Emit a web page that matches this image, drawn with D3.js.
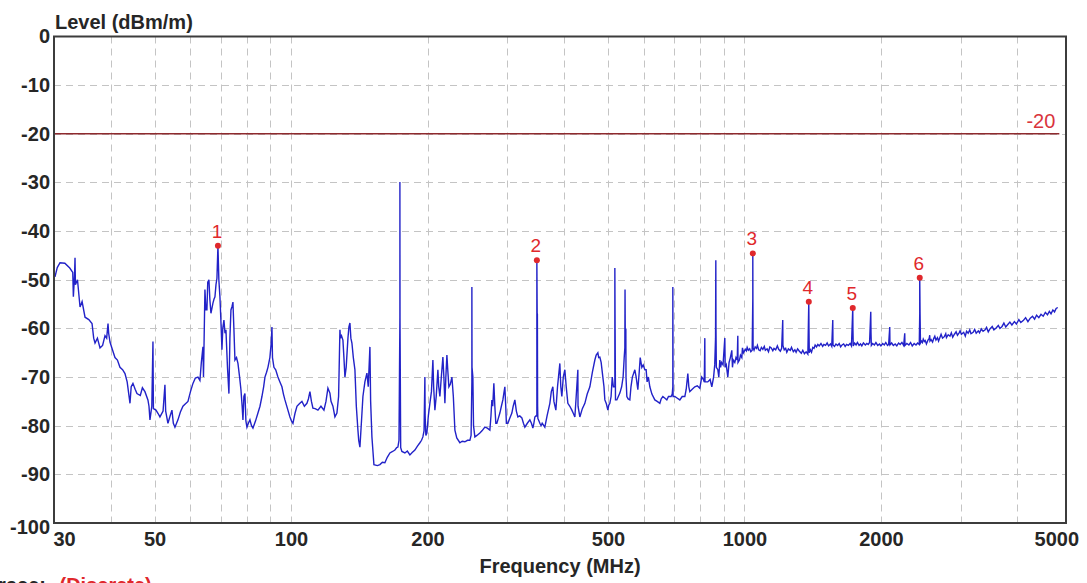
<!DOCTYPE html>
<html>
<head>
<meta charset="utf-8">
<script src="https://cdn.jsdelivr.net/npm/d3@7/dist/d3.min.js"></script>
<style>
  html, body { margin: 0; padding: 0; background: #fff; overflow: hidden; }
  svg { display: block; font-family: "Liberation Sans", Arial, sans-serif; }
</style>
</head>
<body>
<svg id="chart" width="1087" height="583"></svg>
<script>
// Measured field strength trace, [frequency MHz, level dBm/m]
const band30to100 = [
  [30.15,-49.4],[30.5,-47.5],[30.93,-46.5],[31.7,-46.6],[32.5,-47.6],[33.0,-48.5],[33.1,-53.5],[33.3,-49],
  [33.38,-45.5],[33.45,-51],[33.8,-50],[34.24,-55.6],[34.6,-54.5],[35.12,-57.7],[35.8,-58.2],[36.39,-59],
  [36.7,-62],[36.95,-63],[37.4,-62],[37.9,-64],[38.4,-63.5],[38.87,-61.5],[39.2,-62],[39.47,-59],[39.6,-61],
  [39.87,-62.8],[40.4,-64.5],[40.89,-66],[41.4,-66.5],[41.94,-68],[42.5,-68.5],[43.02,-69.3],[43.5,-71],
  [44.13,-75.4],[44.4,-72],[44.8,-71.3],[45.3,-72.5],[45.72,-73.4],[46.5,-73.8],[47.0,-72.2],[47.61,-73],
  [48.34,-74.7],[48.6,-76],[48.84,-78.8],[49.3,-76],[49.59,-62.7],[49.7,-76.5],[50.35,-76.8],[50.9,-77.5],
  [51.38,-78.2],[52.2,-77],[52.7,-71.6],[52.9,-77],[53.51,-79.5],[54.1,-78],[54.61,-76.8],[55.0,-79.5],
  [55.45,-80.3],[55.9,-79.5],[56.3,-78.8],[57.0,-77.2],[57.75,-76],[58.5,-75.5],[59.24,-75],[60.0,-73],
  [60.76,-71.3],[61.5,-70.2],[62.32,-70],[62.95,-70.7],[63.4,-67],[63.92,-63.8],[64.1,-70],[64.57,-52],
  [64.9,-56.2],[65.23,-56.2],[65.5,-50.5],[65.9,-50],[66.2,-54],[66.57,-56.9],[67.25,-54.8],[67.6,-54],
  [67.94,-53.5],[68.3,-51],[68.63,-49.7],[68.98,-43],[69.3,-50],[69.68,-53.5],[70.0,-58],[70.4,-64.4],
  [70.7,-60],[71.11,-58.3],[71.5,-61],[71.84,-60.3],[72.4,-68],[72.94,-73.4],[73.3,-62],[73.69,-56.2],
  [74.1,-55.5],[74.44,-54.6],[74.8,-60],[75.2,-66.5],[75.8,-66],[76.36,-67.2],[77.0,-70],[77.53,-72.6],
  [78.0,-76],[78.32,-78.8],[78.7,-74],[79.12,-73.4],[79.5,-79],[79.93,-80.3],[80.5,-79.5],[81.15,-78.8],
  [81.8,-80],[82.4,-80.5],[83.5,-79],[84.52,-77.4],[85.4,-76],[86.25,-74],[87.0,-72],[87.58,-70],
  [88.3,-69],[88.92,-68],[89.8,-66],[90.4,-63],[90.75,-59.7],[91.0,-66],[91.67,-68],[92.5,-68.5],
  [93.55,-70],[94.5,-71],[95.47,-72],[96.2,-73.5],[96.94,-74.7],[98.2,-76.5],[99.43,-78.2],[100.2,-79]
];

const band100to350 = [
  [100.96,-79.5],[102,-77.5],[103.03,-76],[104.3,-75.5],[105.68,-75],[107,-76],[108.39,-75.4],[109.2,-74.5],
  [110.06,-73],[110.9,-75],[111.75,-76.4],[113,-76.5],[114.62,-76.8],[116.4,-76],[118.17,-76.8],[119.4,-75],
  [120.59,-72.3],[121.82,-73.3],[122.5,-75],[123.69,-76],[124.95,-78.2],[126.23,-77.4],[127.3,-74],
  [128.17,-60.3],[128.5,-62],[129.2,-61.5],[130.13,-62.4],[130.8,-66],[131.46,-70],[132.3,-68],[133.5,-62],
  [134.16,-59.7],[134.85,-58.9],[135.5,-62],[136.22,-63],[137.2,-66],[138.31,-68.5],[139.3,-76],
  [140.44,-80.9],[141.0,-83],[141.87,-84.4],[142.8,-80],[144.05,-74],[145.5,-71],[147.0,-69.2],[148.0,-72],
  [149.26,-63.8],[149.8,-75],[150.78,-82.3],[151.5,-85],[152.32,-88],[155,-88.2],[157.04,-88],[159,-87.5],
  [161.06,-87.6],[163,-86.5],[165.2,-85.6],[167.5,-85.3],[169.45,-85],[171,-84.5],[172.05,-84.4],[173.0,-83],
  [173.81,-57.7],[173.81,-29.9],[173.9,-57.7],[174.5,-84.5],[175.58,-85.3],[178.28,-85.6],[180.5,-85.2],
  [182.86,-86],[185,-85.5],[187.56,-85],[190,-84.2],[192.38,-83.5],[194,-83],[195.33,-82.3],[196.5,-81],
  [197.32,-70],[197.6,-78],[198.3,-82],[199.34,-81.5],[200.8,-78],[202.4,-75.4],[204,-73],[205.51,-66.5],
  [206.3,-72],[207.61,-76.8],[209,-74],[210.8,-68.5],[211.7,-72],[212.95,-74],[214.5,-70],[216.22,-65.9],
  [217.3,-70],[218.43,-75.4],[219.5,-70],[220.66,-65.5],[221.8,-69],[222.91,-72],[224.5,-71.5],[226.34,-70],
  [228,-74],[229.81,-80.9],[232,-82.5],[235.72,-83.5],[238.5,-83.2],[241.78,-83.3],[245,-83],[247.98,-83],
  [249.5,-82],[250.51,-71],[250.51,-51.5],[250.7,-68],[251.78,-70],[252.6,-80],[254.35,-82.3],[257,-82],
  [260.89,-81.5],[264,-81],[267.6,-80.3],[271,-80.5],[274.47,-80.9],[276,-78],[277.27,-74.7],[278.5,-76],
  [280.1,-71.3],[281.5,-76],[282.9,-79.5],[284.4,-79.5],[286.5,-78.5],[288.77,-77.4],[291,-76],[293.2,-74.7],
  [294.5,-73.5],[296.2,-72],[297.5,-76],[298.5,-79.5],[300.76,-79.5],[303.5,-78.5],[306.92,-77.4],[309,-76],
  [311.64,-74.7],[314,-77],[316.43,-78.2],[319.5,-78],[322.92,-78.4],[325.5,-79.5],[327.87,-80.3],[332,-79.5],
  [336.29,-78.8],[339,-79.5],[341.46,-80.5],[343.2,-79.5],[344.95,-78.2],[346.5,-78],[348.47,-78],
  [348.47,-59],[348.47,-46],[349,-56.9],[349.4,-57],[349.8,-76],[350.24,-78.5]
];

const band350to1000 = [
  [352,-79],[353.81,-79.5],[356,-80],[358,-79.5],[362.9,-80.3],[367,-78],[372.23,-75.4],[375,-73],
  [377.95,-72],[380,-75],[383.76,-76.8],[387,-72],[391.63,-67.2],[393.5,-72],[395.62,-74],[398.5,-70],
  [401.7,-68.5],[404.5,-72],[407.87,-75.4],[412,-76],[416.24,-76.8],[419.5,-77.5],[422.64,-78.2],
  [425.5,-74],[429.13,-68.5],[429.5,-76],[433.51,-78.2],[439,-76.5],[444.66,-75.4],[450,-73.5],
  [456.09,-72],[462,-69],[467.81,-66.5],[471,-65.5],[475,-65],[477,-66],[479.84,-65.9],[483,-67],
  [487.2,-70],[490,-72],[492.18,-74.7],[496,-75.5],[499.74,-76.8],[502,-75.8],[504.84,-75.4],[508,-74],
  [511,-70],[514,-72],[517.82,-72],[517.82,-47.6],[518.5,-60],[519.5,-74.7],[523.1,-74.7],[527,-74],
  [531.13,-73.3],[536,-72],[540,-70],[543,-66],[544.78,-64],[545.3,-52],[546,-62],[547.55,-60],[548,-70],
  [550.34,-74],[554,-74.5],[558.79,-74.7],[562,-72],[566,-70],[573.16,-68.5],[577,-70],[581.96,-72.6],
  [586,-69],[589,-66],[593.9,-68],[598,-67.5],[603.02,-68.5],[607,-68.5],[610,-71],[614,-70],[618.53,-72],
  [625,-73.5],[634.43,-74.7],[642,-75],[650.74,-75.4],[655,-74.5],[660.73,-74],[667,-74.3],[674.28,-74.7],
  [680,-74],[684.63,-74],[689,-74],[693,-73.5],[695.13,-72],[695.13,-51.5],[695.5,-60],[696,-74],
  [702.23,-74],[710,-74.3],[720.28,-74.7],[729,-74],[738.8,-74],[744,-72.5],[750.14,-69.3],[754,-72],
  [757.8,-73],[767,-72.5],[777.28,-72],[787,-71.8],[797.26,-72.3],[805,-70],[812,-70.5],[815.5,-71],
  [817.76,-62],[818.5,-71],[830,-71],[840,-70.5],[847.35,-72],[855,-70],[860,-67.5],[863.5,-62],
  [864.73,-46],[865.5,-60],[867,-68],[873.55,-68.5],[878,-70],[882.46,-66.5],[886,-68],[890,-67],
  [897,-67.5],[905.15,-62],[907,-68],[912,-67.5],[919.04,-70],[925,-67],[931,-66],[937.89,-64.5],
  [941,-68],[945,-66.5],[952.27,-67],[958,-66],[964,-66.5],[966.9,-61.5],[968,-67],[975,-66.5],
  [980,-65.5],[986.74,-66],[990,-64],[995,-65],[1001.9,-64.5]
];

const band1000to2440 = [
  [1005,-64.3],[1010,-64.6],[1014,-63.9],[1020,-64.5],[1027,-64.2],[1033,-64.8],[1040,-64.5],[1043.4,-53.8],
  [1043.4,-44.6],[1044,-53.8],[1045,-64],[1050,-64.5],[1056,-63.8],[1063,-64.1],[1068,-63.5],[1075,-64.4],
  [1083,-64.6],[1090,-63.9],[1098,-64.3],[1106,-63.7],[1112,-64.5],[1122,-64.2],[1130,-64.8],[1138,-63.8],
  [1146,-64],[1155,-64.6],[1162,-64.1],[1172,-64.4],[1182,-63.6],[1190,-64.3],[1200,-64.7],[1208,-64.1],
  [1214.8,-58.3],[1216,-63.5],[1224,-64.4],[1233,-64.1],[1240,-64.9],[1250,-64.2],[1262,-64.5],[1270,-63.9],
  [1282,-64.8],[1292,-64.4],[1300,-64.9],[1310,-64.2],[1322,-64.7],[1335,-65.1],[1345,-64.5],[1356,-65.2],
  [1368,-64.8],[1380,-65.3],[1386.6,-54.5],[1388,-60],[1390,-65],[1398,-64.4],[1406,-64.9],[1415,-63.9],
  [1424,-64.1],[1432,-63.4],[1442,-63.8],[1452,-63.3],[1462,-63.6],[1475,-63.1],[1488,-63.7],[1497,-63.3],
  [1510,-63.5],[1522,-63],[1533,-63.6],[1548,-63.2],[1558,-63.7],[1566.2,-58.3],[1568,-63.4],[1580,-63.7],
  [1592,-63.2],[1605,-63.5],[1618,-63.1],[1630,-63.8],[1642,-63.4],[1655,-63.2],[1668,-63.7],[1680,-63.3],
  [1695,-63.5],[1710,-63.1],[1722,-63.6],[1733.6,-55.8],[1735,-60],[1738,-63.6],[1750,-63],[1763,-63.4],
  [1775,-62.9],[1790,-63.5],[1803,-63.2],[1815,-63.6],[1830,-63],[1848,-63.4],[1862,-63.1],[1875,-63.3],
  [1888,-62.9],[1899.5,-56.6],[1902,-61],[1905,-63.5],[1918,-63.1],[1935,-63.4],[1950,-62.9],[1968,-63.5],
  [1985,-63.2],[2000,-63.6],[2018,-63.1],[2035,-63.4],[2050,-62.9],[2068,-63.5],[2080,-63.3],[2091.8,-59.7],
  [2094,-63.4],[2112,-63],[2130,-63.5],[2150,-63.2],[2168,-63.6],[2188,-63],[2205,-63.3],[2225,-62.9],
  [2245,-63.5],[2257.3,-61],[2260,-63.5],[2282,-63.1],[2305,-63.4],[2325,-62.9],[2345,-63.6],[2368,-63.1],
  [2390,-63.4],[2410,-63],[2430,-63.3],[2435.9,-57],[2435.9,-49.6],[2440,-57]
];

const band2440to5000 = [
  [2445,-63],[2458,-62.6],[2470,-62.9],[2480,-62.2],[2495,-62.7],[2505,-62.5],[2520,-63.2],[2540,-62.4],
  [2555,-62.1],[2562.7,-61.4],[2566,-62.6],[2580,-62.3],[2600,-62.8],[2615,-62.1],[2630,-61.6],[2645,-62.4],
  [2665,-61.9],[2680,-62.6],[2700,-61.8],[2715,-61.2],[2735,-62],[2760,-61.7],[2780,-61.1],[2790,-61.9],
  [2815,-61.3],[2840,-61.6],[2860,-60.9],[2880,-61.8],[2905,-61.2],[2930,-60.7],[2950,-61.4],[2975,-60.9],
  [2990,-60.5],[3010,-61.2],[3045,-60.8],[3070,-61.6],[3090,-60.6],[3115,-61],[3140,-60.3],[3160,-61.1],
  [3195,-60.8],[3220,-60.2],[3245,-61],[3280,-60.5],[3300,-60.9],[3330,-60.1],[3360,-60.6],[3395,-60.3],
  [3420,-59.8],[3450,-60.7],[3480,-60.1],[3520,-59.6],[3550,-60.3],[3590,-59.9],[3630,-59.4],[3660,-60],
  [3700,-59.6],[3735,-58.9],[3770,-59.7],[3810,-59.2],[3850,-58.7],[3890,-59.3],[3940,-58.6],[3980,-59.1],
  [4030,-58.2],[4070,-58.8],[4120,-58.4],[4170,-57.8],[4220,-58.6],[4270,-57.9],[4320,-57.5],[4365,-58.1],
  [4410,-57.3],[4460,-57.8],[4510,-57.1],[4560,-57.5],[4610,-56.7],[4660,-57.2],[4705,-56.5],[4745,-57],
  [4790,-56.2],[4830,-56.6],[4870,-55.9],[4910,-55.7]
];

// Peak markers
const markerIds = ["1", "2", "3", "4", "5", "6"];
const markerFreq = [68.98, 348.47, 1043.4, 1386.6, 1733.6, 2435.9];
const markerLevel = [-43, -46, -44.6, -54.5, -55.8, -49.6];

// Limit line
const limitLevel = -20;

// Axis ticks
const xTickValues = [30, 50, 100, 200, 500, 1000, 2000, 5000];
const xGridValues = [40, 50, 60, 70, 80, 90, 100, 200, 300, 400, 500, 600, 700, 800, 900, 1000, 2000, 3000, 4000];
const yTickValues = [0, -10, -20, -30, -40, -50, -60, -70, -80, -90, -100];
const yGridValues = [-10, -20, -30, -40, -50, -60, -70, -80, -90];

const trace = [].concat(band30to100, band100to350, band350to1000, band1000to2440, band2440to5000);

const svg = d3.select("#chart");
const plot = { left: 54, right: 1066, top: 36.5, bottom: 523 };

const x = d3.scaleLog().domain([30, 5120]).range([plot.left, plot.right]);
const y = d3.scaleLinear().domain([-100, 0]).range([plot.bottom, plot.top]);
const plainNumber = d => String(d);

// grid
const grid = svg.append("g").attr("stroke", "#c4c4c4").attr("stroke-width", 1)
  .attr("stroke-dasharray", "7,5");
grid.selectAll("line.v").data(xGridValues).join("line")
  .attr("class", "v")
  .attr("x1", d => Math.round(x(d)) + 0.5).attr("x2", d => Math.round(x(d)) + 0.5)
  .attr("y1", plot.top).attr("y2", plot.bottom);
grid.selectAll("line.h").data(yGridValues).join("line")
  .attr("class", "h")
  .attr("y1", d => Math.round(y(d)) + 0.5).attr("y2", d => Math.round(y(d)) + 0.5)
  .attr("x1", plot.left).attr("x2", plot.right);

// limit line
svg.append("line")
  .attr("x1", plot.left).attr("x2", x(5000) - 2)
  .attr("y1", y(limitLevel)).attr("y2", y(limitLevel))
  .attr("stroke", "#8e2a2e").attr("stroke-width", 1.6);
svg.append("text")
  .attr("x", x(5000) - 6).attr("y", y(limitLevel) - 6)
  .attr("text-anchor", "end")
  .attr("fill", "#d9343c").attr("font-size", 20)
  .text(plainNumber(limitLevel));

// trace
const clipId = "plot-clip";
svg.append("clipPath").attr("id", clipId).append("rect")
  .attr("x", plot.left).attr("y", plot.top)
  .attr("width", plot.right - plot.left).attr("height", plot.bottom - plot.top);

const line = d3.line().x(d => x(d[0])).y(d => y(d[1]));
svg.append("path")
  .datum(trace)
  .attr("clip-path", `url(#${clipId})`)
  .attr("fill", "none")
  .attr("stroke", "#2222c8")
  .attr("stroke-width", 1.4)
  .attr("d", line);

// markers
const markers = markerIds.map((id, i) => ({ id, f: markerFreq[i], v: markerLevel[i] }));
const mg = svg.append("g");
mg.selectAll("circle").data(markers).join("circle")
  .attr("cx", d => x(d.f)).attr("cy", d => y(d.v)).attr("r", 3)
  .attr("fill", "#e0282c");
mg.selectAll("text").data(markers).join("text")
  .attr("x", d => x(d.f) - 1).attr("y", d => y(d.v) - 8)
  .attr("text-anchor", "middle")
  .attr("fill", "#e0282c").attr("font-size", 19)
  .text(d => d.id);

// frame
svg.append("rect")
  .attr("x", plot.left).attr("y", plot.top)
  .attr("width", plot.right - plot.left).attr("height", plot.bottom - plot.top)
  .attr("fill", "none").attr("stroke", "#3c3c3c").attr("stroke-width", 2);

// y axis
const yAxis = svg.append("g")
  .attr("transform", `translate(${plot.left - 2},0)`)
  .call(d3.axisLeft(y).tickValues(yTickValues).tickSize(0).tickPadding(2).tickFormat(plainNumber));
yAxis.select(".domain").remove();
yAxis.selectAll("text")
  .attr("font-size", 20).attr("font-weight", "bold").attr("fill", "#262626")
  .attr("font-family", "'Liberation Sans', Arial, sans-serif");
yAxis.selectAll(".tick").filter(d => d === -100).select("text").attr("dy", "0.5em");

// x axis
const xAxis = svg.append("g")
  .attr("transform", `translate(0,${plot.bottom})`)
  .call(d3.axisBottom(x).tickValues(xTickValues).tickSize(0).tickPadding(9).tickFormat(plainNumber));
xAxis.select(".domain").remove();
xAxis.selectAll("text")
  .attr("font-size", 20).attr("font-weight", "bold").attr("fill", "#262626")
  .attr("font-family", "'Liberation Sans', Arial, sans-serif");
xAxis.selectAll(".tick").filter(d => d === 30).select("text").attr("text-anchor", "start").attr("dx", -1);
xAxis.selectAll(".tick").filter(d => d === 5000).select("text").attr("dx", -5);

// titles
svg.append("text")
  .attr("x", 55).attr("y", 29)
  .attr("font-size", 20).attr("font-weight", "bold").attr("fill", "#262626")
  .text("Level (dBm/m)");
svg.append("text")
  .attr("x", 560).attr("y", 573)
  .attr("text-anchor", "middle")
  .attr("font-size", 20).attr("font-weight", "bold").attr("fill", "#262626")
  .text("Frequency (MHz)");

const traceLabel = svg.append("text").attr("x", -13).attr("y", 592)
  .attr("font-size", 20).attr("font-weight", "bold");
traceLabel.append("tspan").attr("fill", "#262626").text("Trace: ");
traceLabel.append("tspan").attr("fill", "#e0282c").attr("dx", 8).text("(Discrete)");
</script>
</body>
</html>
